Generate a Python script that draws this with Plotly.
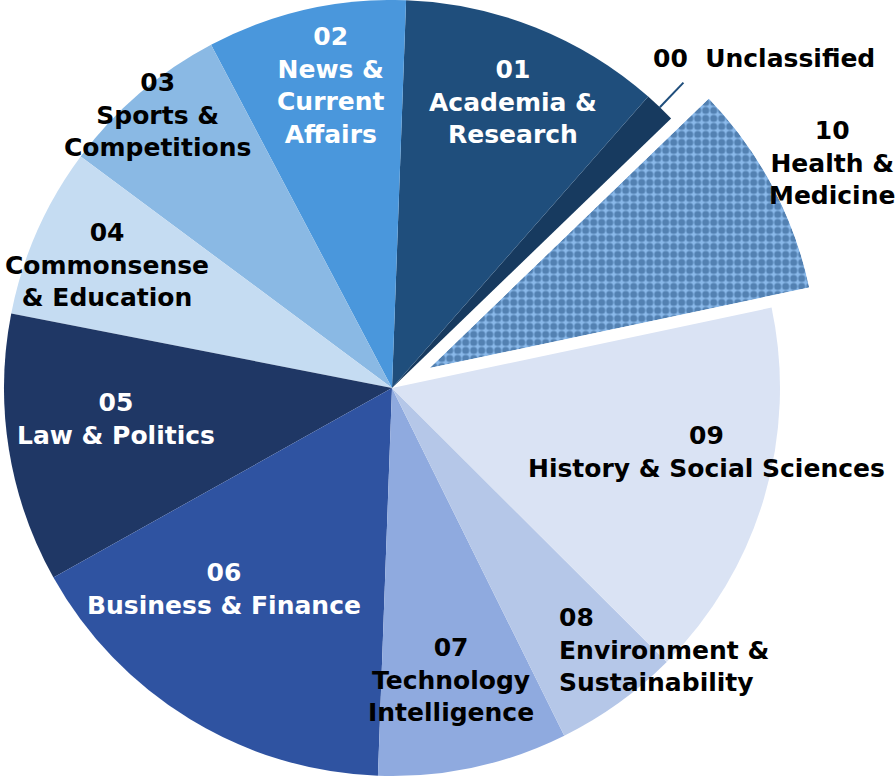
import math
import plotly.graph_objects as go

# ---------------- data ----------------
codes = ["00", "01", "02", "03", "04", "05", "06", "07", "08", "09", "10"]
categories = ["Unclassified", "Academia & Research", "News & Current Affairs",
              "Sports & Competitions", "Commonsense & Education", "Law & Politics",
              "Business & Finance", "Technology Intelligence",
              "Environment & Sustainability", "History & Social Sciences",
              "Health & Medicine"]
shares = [1.3, 10.9, 8.3, 7.1, 7.1, 11.2, 16.3, 7.9, 5.2, 15.8, 8.9]
label_texts = ["00\u00a0 Unclassified", "01<br>Academia &<br>Research",
               "02<br>News &<br>Current<br>Affairs", "03<br>Sports &<br>Competitions",
               "04<br>Commonsense<br>& Education", "05<br>Law & Politics",
               "06<br>Business & Finance", "07<br>Technology<br>Intelligence",
               "08<br>Environment &<br>Sustainability", "09<br>History & Social Sciences",
               "10<br>Health &<br>Medicine"]
pulled_index = 10

# ---------------- style ----------------
colors = ["#173a5f", "#1f4e7c", "#4a97dc", "#8ab9e4", "#c5dcf2", "#1f3765",
          "#2f53a1", "#8faadf", "#b5c7e8", "#dae3f4", "#8ab9ea"]
text_colors = ["black", "white", "white", "black", "black", "white", "white",
               "black", "black", "black", "black"]
label_r = [1.28, 0.80, 0.795, 0.928, 0.80, 0.715, 0.675, 0.767, 0.798, 0.828, 1.274]
label_dtheta = [4.8, 1.2, 1.4, -0.1, -0.6, 2.7, 8.6, 0.8, 3.5, -5.0, 0.9]
label_anchor = ["center"] * 8 + ["left"] + ["center"] * 2

W, H = 896, 780
CX, CY, R = 392.0, 388.0, 388.0   # pie centre (px from left/top) and radius
START = 46.0                      # clockwise edge of first slice (deg from 12 o'clock)
PULL = 0.11
FONT = "DejaVu Sans"

total = sum(shares)
deg = [s / total * 360.0 for s in shares]
mids = []
cum = 0.0
for d in deg:
    mids.append((START - cum - d / 2.0) % 360.0)
    cum += d


def to_paper(f, theta, cx=CX, cy=CY):
    t = math.radians(theta)
    x = cx + f * R * math.sin(t)
    y = cy - f * R * math.cos(t)
    return x / W, (H - y) / H


fig = go.Figure()

# main pie (pulled slice left empty here)
pie_colors = list(colors)
pie_colors[pulled_index] = "rgba(0,0,0,0)"
fig.add_trace(go.Pie(
    values=shares, labels=codes, sort=False, direction="counterclockwise",
    rotation=START - deg[0],
    marker=dict(colors=pie_colors, line=dict(width=0)),
    textinfo="none", hoverinfo="skip", showlegend=False,
    domain=dict(x=[(CX - R) / W, (CX + R) / W],
                y=[max(0, (H - CY - R) / H), min(1, (H - CY + R) / H)]),
))

# pulled slice drawn in its own polar sector, shifted outward
m = mids[pulled_index]
d = deg[pulled_index]
p0, p1 = 90 - (m + d / 2), 90 - (m - d / 2)
pts = [(0.0, 0.0), (math.cos(math.radians(p0)), math.sin(math.radians(p0))),
       (math.cos(math.radians(p1)), math.sin(math.radians(p1)))]
for a in (-90, 0, 90, 180, 270, 360):
    if p0 <= a <= p1:
        pts.append((math.cos(math.radians(a)), math.sin(math.radians(a))))
bx0 = min(p[0] for p in pts); bx1 = max(p[0] for p in pts)
by0 = min(p[1] for p in pts); by1 = max(p[1] for p in pts)
pcx = CX + PULL * R * math.sin(math.radians(m))
pcy = CY - PULL * R * math.cos(math.radians(m))
pcy_b = H - pcy

fig.add_trace(go.Barpolar(
    r=[1], theta=[m], width=[d], subplot="polar2",
    marker=dict(color=colors[pulled_index], line=dict(width=0),
                pattern=dict(shape=".", fgcolor="#1c4a7a", bgcolor=colors[pulled_index],
                             size=8, solidity=0.62)),
    hoverinfo="skip", showlegend=False,
))

fig.update_layout(
    width=W, height=H,
    margin=dict(l=0, r=0, t=0, b=0),
    paper_bgcolor="white", plot_bgcolor="white",
    polar2=dict(
        domain=dict(x=[(pcx + R * bx0) / W, (pcx + R * bx1) / W],
                    y=[(pcy_b + R * by0) / H, (pcy_b + R * by1) / H]),
        sector=[p0, p1], bgcolor="rgba(0,0,0,0)", bargap=0,
        radialaxis=dict(visible=False, range=[0, 1]),
        angularaxis=dict(visible=False, rotation=90, direction="clockwise"),
    ),
)

# leader line for the tiny slice
x0, y0 = to_paper(1.0, mids[0])
x1, y1 = to_paper(1.088, mids[0])
fig.add_shape(type="line", xref="paper", yref="paper", x0=x0, y0=y0, x1=x1, y1=y1,
              line=dict(color="#1f4e7c", width=2))

# labels
for i, txt in enumerate(label_texts):
    x, y = to_paper(label_r[i], mids[i] + label_dtheta[i])
    fig.add_annotation(
        x=x, y=y, xref="paper", yref="paper", text=txt, showarrow=False,
        xanchor=label_anchor[i], yanchor="middle", align=label_anchor[i],
        font=dict(family=FONT, size=25, color=text_colors[i], weight="bold"),
    )

fig.write_html("out.html", config={"displayModeBar": False},
               post_script="document.body.style.margin='0';document.body.style.overflow='hidden';")
